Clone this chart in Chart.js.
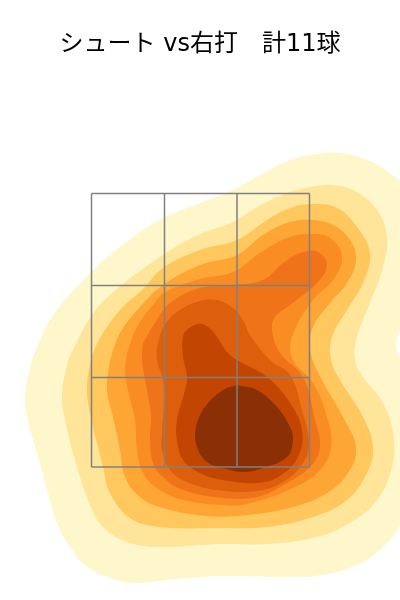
<!DOCTYPE html>
<html>
<head>
<meta charset="utf-8">
<script src="https://cdn.jsdelivr.net/npm/chart.js@4"></script>
<style>
  html, body { margin: 0; padding: 0; background: #fff; }
  #wrap { width: 400px; height: 600px; }
</style>
</head>
<body>
<div id="wrap"><canvas id="chart"></canvas></div>
<script>
const titleText = 'シュート vs右打　計11球';

// contour outlines, outermost first
const level1 = [[32,360],[50,320],[90,273],[133,237],[163,218],[200,203],[233,190],[260,175],[290,160],[317,154],[340,153],[367,160],[390,173],[404,188],[425,260],[404,322],[396,345],[404,368],[425,450],[400,525],[380,550],[357,565],[323,575],[283,577],[233,576],[200,577],[167,580],[133,583],[110,578],[87,567],[70,547],[57,523],[48,493],[37,453],[27,417],[25,393]];
const level2 = [[68,360],[92,315],[117,289],[163,255],[200,234],[233,222],[257,207],[287,193],[310,187],[333,185],[357,192],[377,210],[387,237],[383,267],[370,303],[357,337],[355,360],[363,377],[383,403],[393,433],[392,467],[377,500],[350,523],[317,537],[267,544],[220,544],[160,547],[127,542],[103,527],[90,505],[77,467],[65,420],[62,393]];
const level3 = [[91,358],[100,338],[120,310],[143,289],[163,268],[200,250],[237,240],[267,220],[290,208],[313,204],[337,208],[357,227],[370,253],[363,283],[347,310],[332,337],[331,360],[340,380],[363,417],[373,447],[367,473],[347,500],[313,517],[267,527],[220,528],[160,527],[130,518],[110,493],[103,467],[98,447],[92,423],[87,390]];
const level4 = [[110,360],[120,333],[140,307],[163,285],[200,265],[237,255],[263,235],[290,222],[313,220],[333,225],[350,240],[356,260],[347,283],[330,303],[313,327],[310,350],[322,380],[343,417],[356,448],[348,473],[327,493],[293,507],[247,515],[207,516],[163,508],[140,497],[125,477],[120,450],[113,417],[107,390]];
const level5 = [[127,353],[137,327],[157,300],[165,292],[200,279],[233,272],[260,253],[287,238],[310,234],[330,238],[342,257],[333,280],[313,300],[292,337],[293,360],[313,383],[327,417],[331,447],[320,470],[293,488],[247,504],[223,505],[183,500],[157,488],[143,473],[137,450],[135,420],[128,390],[125,370]];
const level6 = [[143,343],[155,323],[170,303],[200,288],[233,285],[263,280],[283,263],[303,252],[318,252],[327,265],[317,283],[290,305],[275,317],[272,330],[280,353],[303,377],[315,420],[320,447],[310,467],[280,487],[257,497],[223,498],[183,490],[163,477],[153,463],[150,437],[151,417],[147,390],[142,360]];
const level7 = [[157,347],[163,328],[177,312],[200,301],[217,300],[233,308],[243,320],[250,335],[270,360],[290,375],[302,410],[309,443],[303,463],[283,482],[257,491],[217,490],[187,482],[170,470],[162,450],[162,433],[164,400],[163,380],[157,360]];
const level8 = [[182,343],[185,332],[198,324],[208,327],[217,337],[227,352],[237,360],[267,377],[290,403],[302,430],[298,457],[280,476],[257,483],[223,480],[200,473],[183,460],[177,440],[177,420],[185,390],[187,377],[183,357]];
const level9 = [[237,385],[257,390],[277,407],[290,427],[293,440],[287,457],[263,468],[243,472],[223,468],[207,462],[197,447],[196,427],[205,407],[223,390]];

const levels = [level1, level2, level3, level4, level5, level6, level7, level8, level9];
const levelColors = ['#fff7cc', '#fee599', '#fec85f', '#fda535', '#fa8c24', '#ef7419', '#dd5f0b', '#c24602', '#8b3006'];

// strike zone edges
const zoneX = [91.5, 164.5, 237, 309.5];
const zoneY = [193.5, 285.5, 377.5, 467];

const datasets = levels.map(function (level, i) {
    const pts = level.map(function (p) { return { x: p[0], y: p[1] }; });
    pts.push(pts[0]);
    return {
        data: pts,
        showLine: true,
        pointRadius: 0,
        borderWidth: 0,
        backgroundColor: levelColors[i],
        fill: 'shape',
        tension: 0.4,
        order: 20 - i
    };
});

function zoneLine(a, b) {
    return {
        data: [{ x: a[0], y: a[1] }, { x: b[0], y: b[1] }],
        showLine: true,
        pointRadius: 0,
        borderColor: '#808080',
        borderWidth: 1.5,
        fill: false,
        order: 0
    };
}

zoneX.forEach(function (x) {
    datasets.push(zoneLine([x, zoneY[0]], [x, zoneY[3]]));
});
zoneY.forEach(function (y) {
    datasets.push(zoneLine([zoneX[0], y], [zoneX[3], y]));
});

new Chart(document.getElementById('chart').getContext('2d'), {
    type: 'scatter',
    data: { datasets: datasets },
    options: {
        responsive: true,
        maintainAspectRatio: false,
        animation: false,
        layout: { padding: 0 },
        scales: {
            x: { type: 'linear', min: 0, max: 400, display: false },
            y: { type: 'linear', min: 70, max: 600, reverse: true, display: false }
        },
        plugins: {
            legend: { display: false },
            tooltip: { enabled: false },
            title: {
                display: true,
                text: titleText,
                color: '#000',
                font: { family: '"DejaVu Sans", "Noto Sans CJK JP"', size: 24, weight: 'normal', lineHeight: 1.25 },
                padding: { top: 30, bottom: 10 }
            }
        }
    }
});
</script>
</body>
</html>
